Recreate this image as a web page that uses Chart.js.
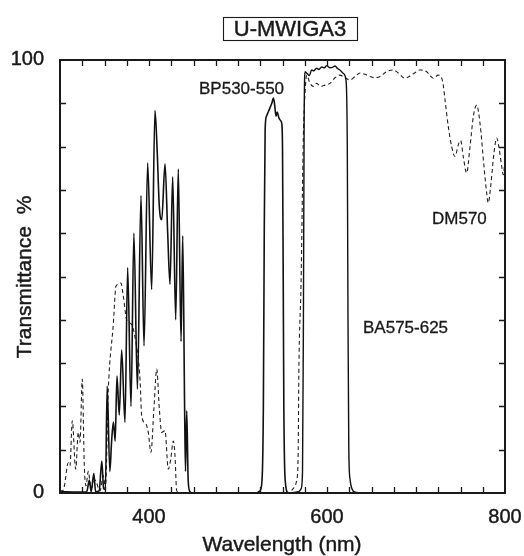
<!DOCTYPE html>
<html>
<head>
<meta charset="utf-8">
<script src="https://cdn.jsdelivr.net/npm/chart.js@4/dist/chart.umd.min.js"></script>
<style>
  html, body { margin: 0; padding: 0; background: #fff; }
  canvas { display: block; }
</style>
</head>
<body>
<canvas id="chart" width="524" height="556"></canvas>
<script>
// BP530-550 excitation filter (solid)
const bpWave = [300,320,330,333,335,338,340,344,347,349,351,353,356,358,360,362,364,366.6,369.3,373,
  376,379.8,383,387,391,394.4,398.5,403,406.7,409,411.6,414.3,418,421,423.6,426.6,430,432.9,436,437.9,
  440,441,442.4,444,446,450,520,524.7,527,528.5,529.5,530.5,532,534,536,538,539.7,541,542.7,544,
  546,548,549.1,550,550.8,551.5,553,556.5,560];
const bpTrans = [0.3,0.2,0.3,3,0.3,4.5,0.3,0.5,7.4,1,0.8,24.7,5,12,16.4,12,27,18,33,16.3,
  52,20,60,24,68.7,34,76.2,47,88.3,80,66.2,63.1,76,60,48.2,73,40,74.8,35,59.4,
  20,5,19,3,0.3,0,0,0.5,3,20,60,84,87,88,89,90,91.2,90,87,88,
  86.6,86,85.4,80,50,20,3,0,0];

// BA575-625 barrier filter (solid)
const baWave = [560,568,571,572.5,573.5,574.3,575.3,578,580.1,582.8,585,588.4,591,594,597,599.7,603.4,606,609,612,
  614.6,618.3,621.3,622.8,623.6,624.5,626,628,631.5,640,800];
const baTrans = [0,0.3,1,5,40,85,97.3,96.8,96.4,97.7,97.5,98.1,97.8,98.4,98.2,98.7,98.2,98.3,98.6,98,
  97.7,96.9,95.4,80,40,10,3,1,0.2,0,0];

// DM570 dichromatic mirror (dashed)
const dmWave = [300,303,305,309.3,311.2,313.8,317.6,320.6,322.5,325,327.3,329.2,331.8,334.8,339.3,344.9,348.7,351,354.3,359.9,
  362.9,365.5,368.5,371.1,374.9,380,384.3,389.9,391.8,396.6,399.2,402.2,405.5,408.7,411.6,414.3,418,421.7,424.4,427.3,
  429.2,431.1,440,555,562,566,567.5,568.5,570.8,573.4,575.5,577.2,580.9,584.6,588.4,592.9,597.8,603.4,609,614.6,
  620.2,625.8,631.5,637.1,642.7,648.3,653.9,659.6,667,674.4,680.1,687.6,696.9,704.5,712,719.4,725,730,732.6,736.3,
  740.1,743.8,747.5,750.2,753.1,756.9,760.7,764.4,768.2,771.9,776.4,779.4,781.2,783.9,787.6,790.7,793.6,796.3,798.1,800];
const dmTrans = [0.5,0.5,1.7,7,6.3,16.7,5.5,14,11.7,26.3,6.3,1.7,5,1,3,0.5,4,1,24,39,
  47.8,48.2,48.5,45.5,40,39,36,26.3,17.8,15.9,14,9.4,19.4,28.6,19.4,14,14.4,5.5,7.8,12,
  8.6,0.5,0,0,1,3,8,30,48,82,93,96.5,94.6,93.9,94.6,93.9,94.2,94.6,95.9,96.5,
  95.9,95.4,96.2,97,96.7,96.2,95.9,96.2,97.3,97.7,97,95.8,96.8,97.7,97.3,95.8,96.5,95,90.8,84.6,
  80,77.7,80.4,81.4,77.7,73.9,80,86.9,89.6,85.4,75.4,69.3,67,70.8,78.5,82,79.3,75.4,73.5,77];

// axes
const xMin = 300, xMax = 800, xTickStep = 25;
const yMin = 0, yMax = 100, yTickStep = 10;
const xLabels = [400, 600, 800];
const yLabels = [0, 100];

const chartTitle = 'U-MWIGA3';
const xTitle = 'Wavelength (nm)';
const yTitle = 'Transmittance  %';
const seriesNotes = [
  { text: 'BP530-550', x: 199, y: 94 },
  { text: 'DM570', x: 432, y: 224 },
  { text: 'BA575-625', x: 363, y: 333 }
];

const FONT = '"Liberation Sans", Arial, Helvetica, sans-serif';
const INK = '#1a1a1a';

function toPoints(wave, trans) {
  return wave.map((w, i) => ({ x: w, y: trans[i] }));
}

// text a little heavier, like the printed Helvetica
function heavyText(ctx, str, x, y) {
  ctx.fillText(str, x, y);
  ctx.strokeText(str, x, y);
}

const framePlugin = {
  id: 'frame',
  afterDraw(chart) {
    const ctx = chart.ctx;
    const area = chart.chartArea;
    const xs = chart.scales.x;
    const ys = chart.scales.y;
    ctx.save();

    // box round the plot
    ctx.strokeStyle = INK;
    ctx.lineWidth = 2;
    ctx.strokeRect(area.left, area.top, area.right - area.left, area.bottom - area.top);

    // inward tick marks on all four sides
    ctx.lineWidth = 1.3;
    ctx.beginPath();
    for (let v = xMin + xTickStep; v < xMax; v += xTickStep) {
      const px = Math.round(xs.getPixelForValue(v)) + 0.5;
      ctx.moveTo(px, area.bottom); ctx.lineTo(px, area.bottom - 6);
      ctx.moveTo(px, area.top); ctx.lineTo(px, area.top + 6);
    }
    for (let v = yMin + yTickStep; v < yMax; v += yTickStep) {
      const py = Math.round(ys.getPixelForValue(v)) + 0.5;
      ctx.moveTo(area.left, py); ctx.lineTo(area.left + 6, py);
      ctx.moveTo(area.right, py); ctx.lineTo(area.right - 6, py);
    }
    ctx.stroke();

    ctx.fillStyle = INK;
    ctx.lineWidth = 0.45;

    // tick labels
    ctx.font = '20px ' + FONT;
    ctx.textAlign = 'center';
    ctx.textBaseline = 'alphabetic';
    xLabels.forEach(v => {
      heavyText(ctx, String(v), xs.getPixelForValue(v), 523);
    });
    ctx.textAlign = 'right';
    ctx.textBaseline = 'middle';
    yLabels.forEach(v => {
      heavyText(ctx, String(v), 44, ys.getPixelForValue(v) - 1);
    });

    // axis titles
    ctx.font = '21px ' + FONT;
    ctx.textAlign = 'center';
    ctx.textBaseline = 'alphabetic';
    heavyText(ctx, xTitle, 282, 551);
    ctx.save();
    ctx.translate(31, 277);
    ctx.rotate(-Math.PI / 2);
    heavyText(ctx, yTitle, 0, 0);
    ctx.restore();

    // boxed title
    ctx.font = '22px ' + FONT;
    heavyText(ctx, chartTitle, 290, 36);
    ctx.lineWidth = 1.1;
    ctx.strokeRect(223.5, 17.5, 134, 23);

    // series names
    ctx.lineWidth = 0.3;
    ctx.font = '17px ' + FONT;
    ctx.textAlign = 'left';
    seriesNotes.forEach(n => heavyText(ctx, n.text, n.x, n.y));

    ctx.restore();
  }
};

new Chart(document.getElementById('chart'), {
  type: 'line',
  data: {
    datasets: [
      {
        label: 'BP530-550',
        data: toPoints(bpWave, bpTrans),
        borderColor: '#111',
        borderWidth: 1.6,
        pointRadius: 0,
        cubicInterpolationMode: 'monotone'
      },
      {
        label: 'BA575-625',
        data: toPoints(baWave, baTrans),
        borderColor: '#111',
        borderWidth: 1.4,
        pointRadius: 0,
        cubicInterpolationMode: 'monotone'
      },
      {
        label: 'DM570',
        data: toPoints(dmWave, dmTrans),
        borderColor: '#222',
        borderWidth: 1.1,
        borderDash: [4, 3],
        pointRadius: 0,
        cubicInterpolationMode: 'monotone'
      }
    ]
  },
  options: {
    responsive: false,
    animation: false,
    layout: { padding: { left: 60, top: 60, right: 19, bottom: 63 } },
    plugins: {
      legend: { display: false },
      tooltip: { enabled: false }
    },
    scales: {
      x: {
        type: 'linear',
        min: xMin,
        max: xMax,
        grid: { display: false, drawTicks: false },
        border: { display: false },
        ticks: { display: false }
      },
      y: {
        min: yMin,
        max: yMax,
        grid: { display: false, drawTicks: false },
        border: { display: false },
        ticks: { display: false }
      }
    }
  },
  plugins: [framePlugin]
});
</script>
</body>
</html>
